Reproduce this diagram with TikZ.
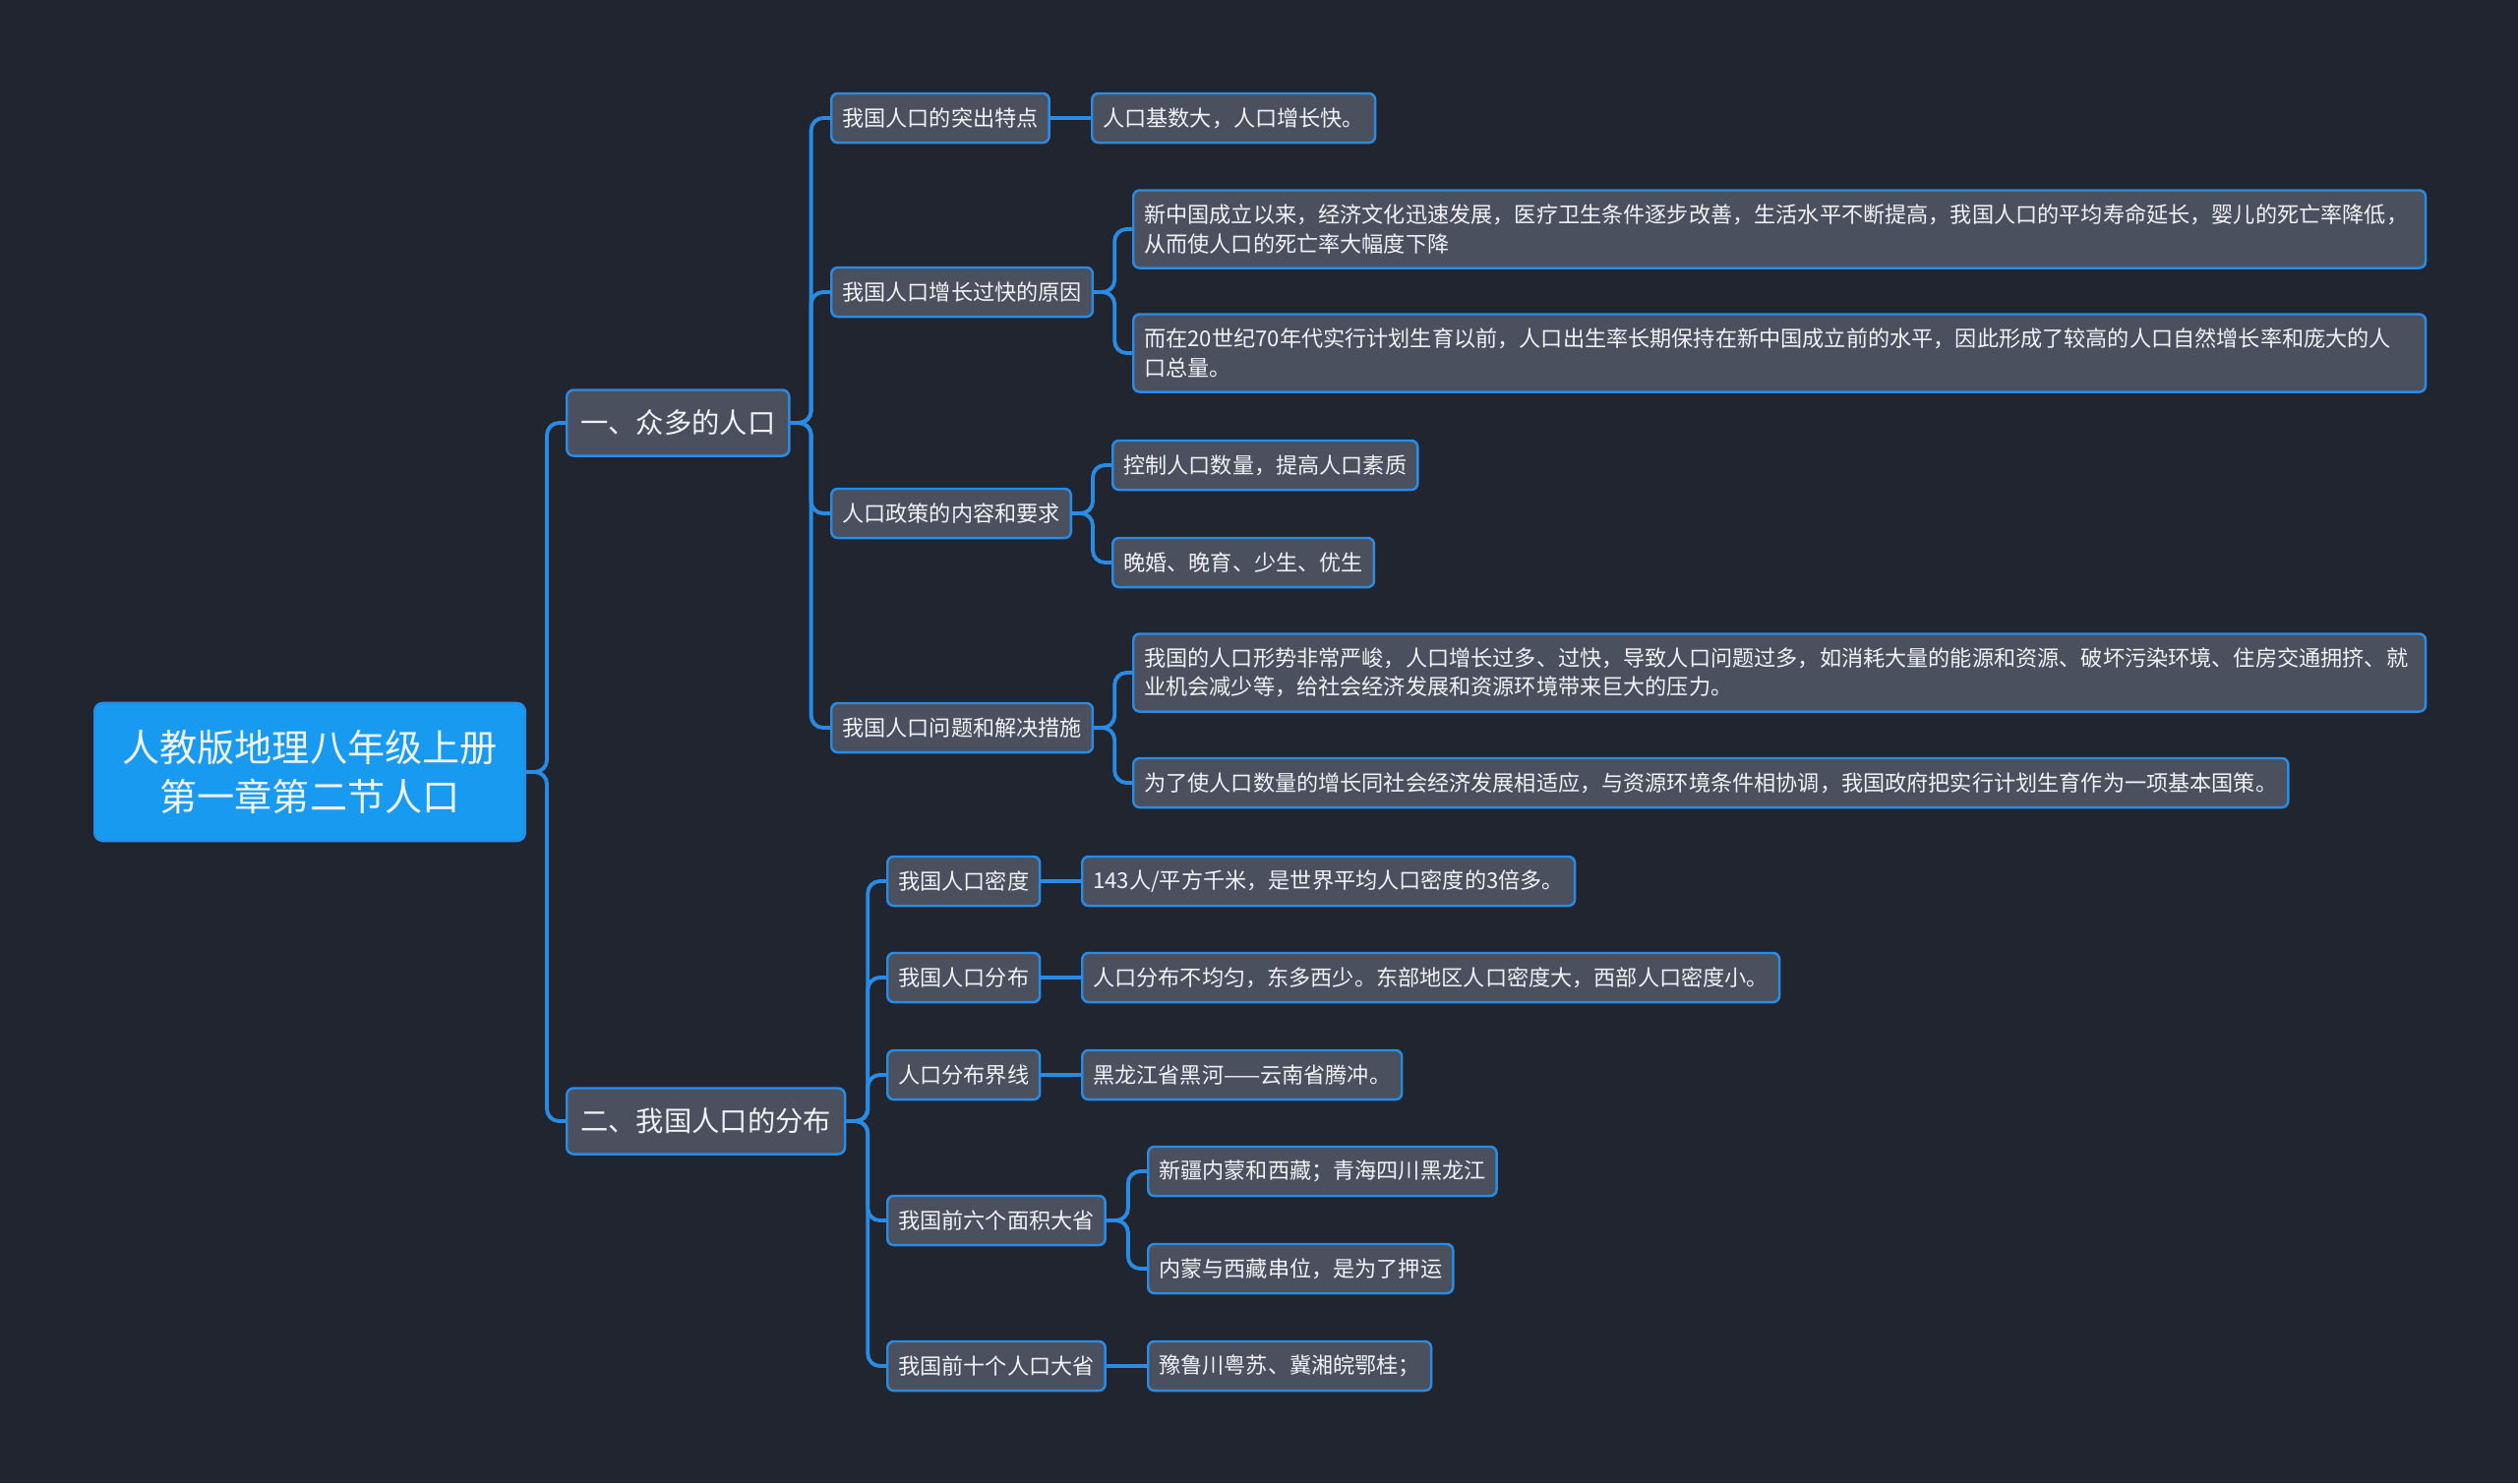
\documentclass[tikz,border=0pt]{standalone}
\usepackage{fontspec}
\setmainfont{Noto Sans CJK SC}
\definecolor{bgc}{RGB}{33,37,48}
\definecolor{boxc}{RGB}{74,80,94}
\definecolor{edgec}{RGB}{40,140,230}
\definecolor{rootc}{RGB}{24,154,240}
\definecolor{txtc}{RGB}{240,242,245}
\newcommand\fsroot{\fontsize{10.85pt}{14.3pt}\selectfont}
\newcommand\fstopic{\fontsize{8.05pt}{10pt}\selectfont}
\newcommand\fsleaf{\fontsize{6.3pt}{8.37pt}\selectfont}

\begin{document}
\begin{tikzpicture}[
    x=0.01cm, y=-0.01cm,
    rootbox/.style={fill=rootc, draw=edgec, line width=0.7pt, rounded corners=2.3pt,
                    text=txtc, font=\fsroot, align=center, anchor=west,
                    minimum height=1.4cm, inner xsep=0.28cm, inner ysep=0pt},
    topic/.style={fill=boxc, draw=edgec, line width=0.7pt, rounded corners=2pt,
                  text=txtc, font=\fstopic, anchor=west,
                  minimum height=0.67cm, inner xsep=0.14cm, inner ysep=0pt},
    sub/.style={fill=boxc, draw=edgec, line width=0.7pt, rounded corners=1.8pt,
                text=txtc, font=\fsleaf, anchor=west,
                minimum height=0.5cm, inner xsep=0.11cm, inner ysep=0pt},
    leaf/.style={sub},
    longleaf/.style={leaf, text width=12.91cm, align=left,
                     minimum height=0.79cm, inner ysep=0.05cm},
    br/.style={draw=edgec, line width=1.1pt, rounded corners=3.5pt}
]

  % ================= 背景 =================
  \fill[bgc] (0,0) rectangle (2560,1508);

  % ================= 中心主题 =================
  \node[rootbox] (root) at (95,785) {人教版地理八年级上册\\第一章第二节人口};

  % ================= 一级分支 =================
  \node[topic] (pop)  at (575,430)  {一、众多的人口};
  \node[topic] (dist) at (575,1140) {二、我国人口的分布};
  \draw[br] (root.east) -- ++(21,0) |- (pop.west);
  \draw[br] (root.east) -- ++(21,0) |- (dist.west);

  % ================= 一、众多的人口 =================
  \node[sub] (feat)   at (844,120) {我国人口的突出特点};
  \node[sub] (cause)  at (844,297) {我国人口增长过快的原因};
  \node[sub] (policy) at (844,522) {人口政策的内容和要求};
  \node[sub] (issue)  at (844,740) {我国人口问题和解决措施};
  \foreach \n in {feat,cause,policy,issue}
    \draw[br] (pop.east) -- ++(21,0) |- (\n.west);

  \node[leaf] (featA) at (1109,120) {人口基数大，人口增长快。};
  \draw[br] (feat.east) -- (featA.west);

  \node[longleaf] (causeA) at (1151,233)
    {新中国成立以来，经济文化迅速发展，医疗卫生条件逐步改善，生活水平不断提高，我国人口的平均寿命延长，婴儿的死亡率降低，\\从而使人口的死亡率大幅度下降};
  \node[longleaf] (causeB) at (1151,359)
    {而在20世纪70年代实行计划生育以前，人口出生率长期保持在新中国成立前的水平，因此形成了较高的人口自然增长率和庞大的人\\口总量。};
  \draw[br] (cause.east) -- ++(21,0) |- (causeA.west);
  \draw[br] (cause.east) -- ++(21,0) |- (causeB.west);

  \node[leaf] (policyA) at (1130,473) {控制人口数量，提高人口素质};
  \node[leaf] (policyB) at (1130,572) {晚婚、晚育、少生、优生};
  \draw[br] (policy.east) -- ++(21,0) |- (policyA.west);
  \draw[br] (policy.east) -- ++(21,0) |- (policyB.west);

  \node[longleaf] (issueA) at (1151,684)
    {我国的人口形势非常严峻，人口增长过多、过快，导致人口问题过多，如消耗大量的能源和资源、破坏污染环境、住房交通拥挤、就\\业机会减少等，给社会经济发展和资源环境带来巨大的压力。};
  \node[leaf] (issueB) at (1151,796)
    {为了使人口数量的增长同社会经济发展相适应，与资源环境条件相协调，我国政府把实行计划生育作为一项基本国策。};
  \draw[br] (issue.east) -- ++(21,0) |- (issueA.west);
  \draw[br] (issue.east) -- ++(21,0) |- (issueB.west);

  % ================= 二、我国人口的分布 =================
  \node[sub] (dens)   at (901,896)  {我国人口密度};
  \node[sub] (spread) at (901,994)  {我国人口分布};
  \node[sub] (line)   at (901,1093) {人口分布界线};
  \node[sub] (area)   at (901,1241) {我国前六个面积大省};
  \node[sub] (most)   at (901,1389) {我国前十个人口大省};
  \foreach \n in {dens,spread,line,area,most}
    \draw[br] (dist.east) -- ++(22,0) |- (\n.west);

  \node[leaf] (densA)   at (1099,896)  {143人/平方千米，是世界平均人口密度的3倍多。};
  \node[leaf] (spreadA) at (1099,994)  {人口分布不均匀，东多西少。东部地区人口密度大，西部人口密度小。};
  \node[leaf] (lineA)   at (1099,1093) {黑龙江省黑河——云南省腾冲。};
  \draw[br] (dens.east)   -- (densA.west);
  \draw[br] (spread.east) -- (spreadA.west);
  \draw[br] (line.east)   -- (lineA.west);

  \node[leaf] (areaA) at (1166,1191) {新疆内蒙和西藏；青海四川黑龙江};
  \node[leaf] (areaB) at (1166,1290) {内蒙与西藏串位，是为了押运};
  \draw[br] (area.east) -- ++(22,0) |- (areaA.west);
  \draw[br] (area.east) -- ++(22,0) |- (areaB.west);

  \node[leaf] (mostA) at (1166,1389) {豫鲁川粤苏、冀湘皖鄂桂；};
  \draw[br] (most.east) -- (mostA.west);

\end{tikzpicture}
\end{document}
